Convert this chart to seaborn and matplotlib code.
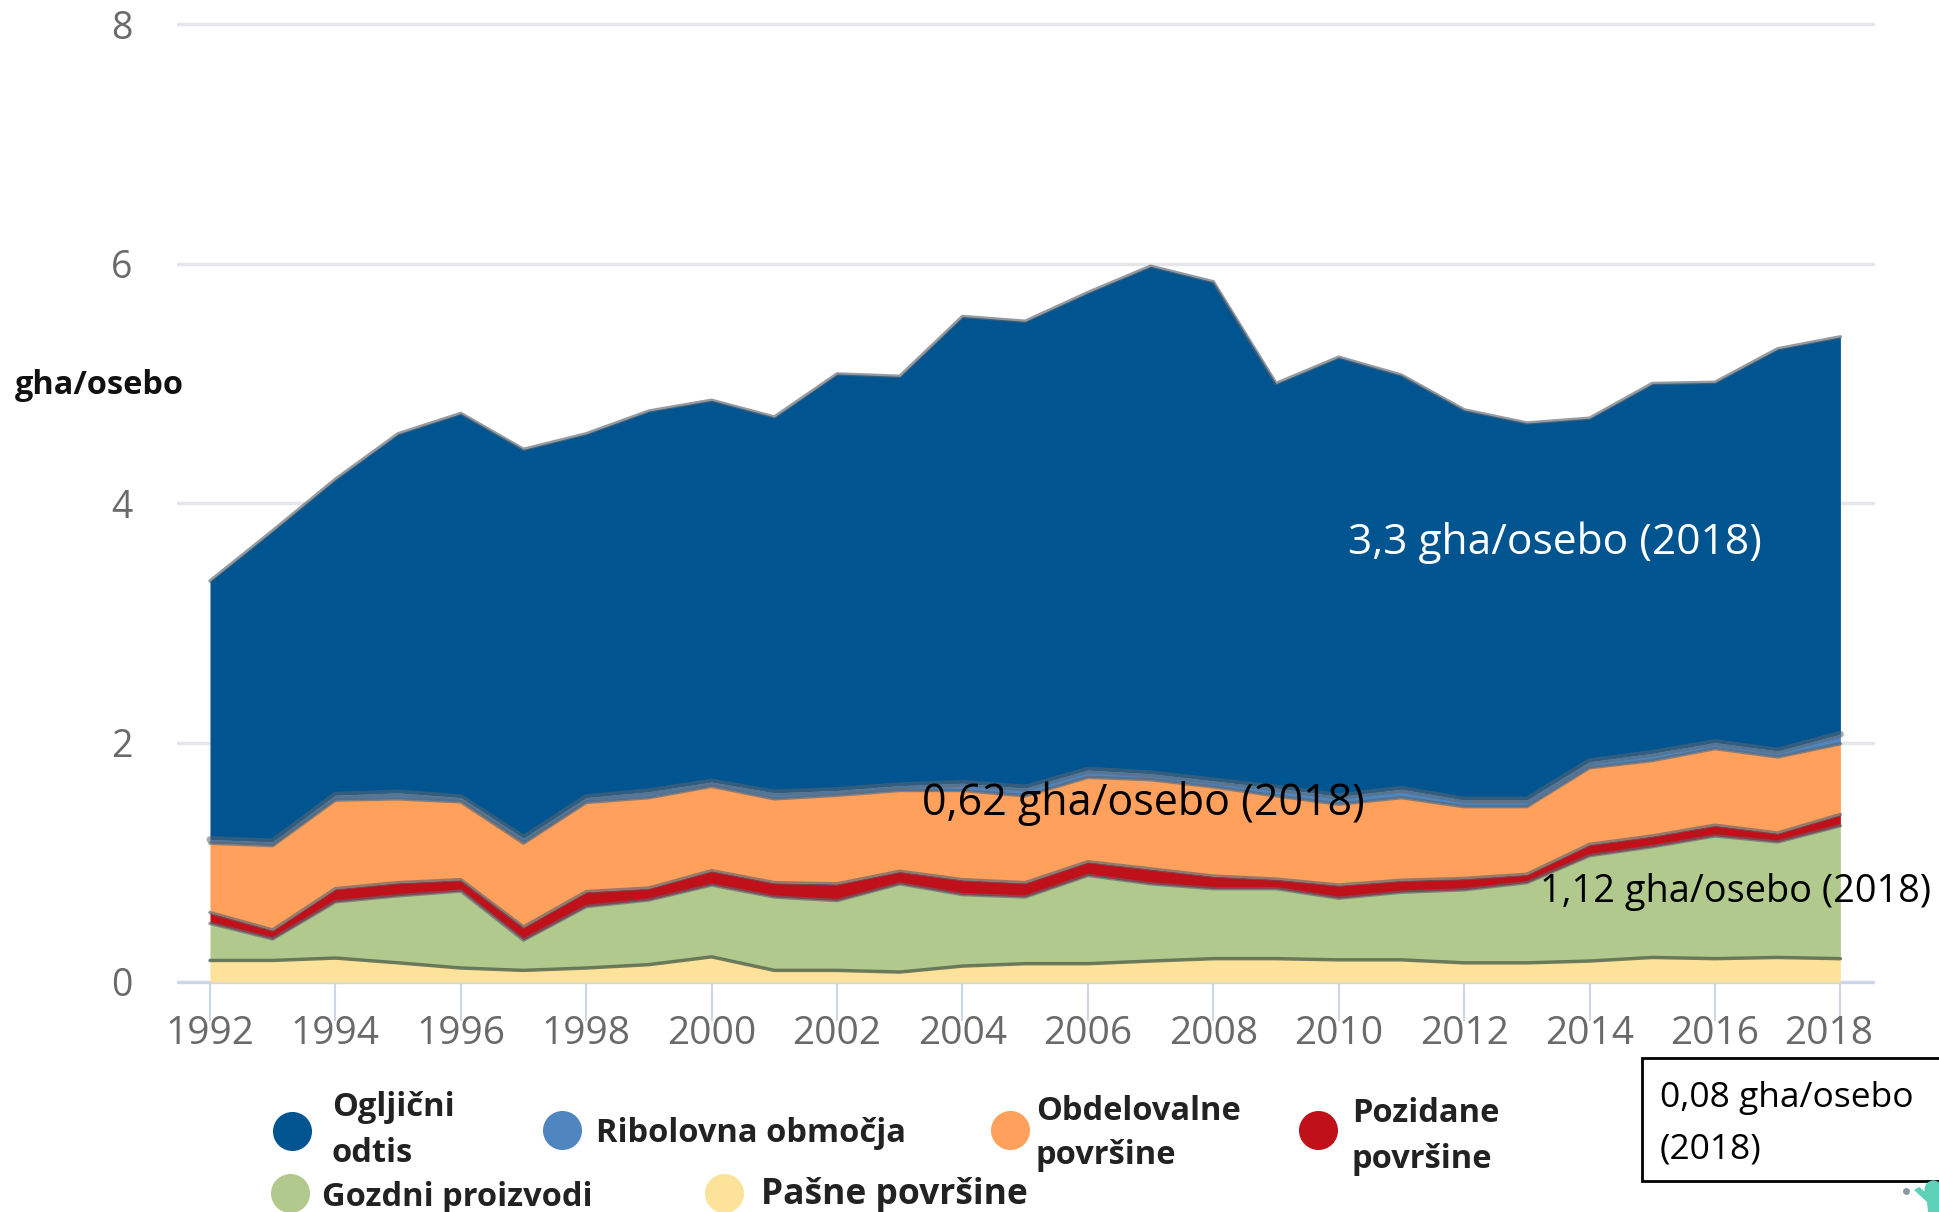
import numpy as np
import pandas as pd
import matplotlib
matplotlib.use("Agg")
import matplotlib.pyplot as plt
from matplotlib.patches import Rectangle, Polygon
from matplotlib.transforms import ScaledTranslation
import seaborn as sns

years = list(range(1992, 2019))
# Stack boundaries (gha/person)
grazing_top = [.18,.18,.20,.16,.117,.097,.117,.145,.21,.097,.097,.083,.133,.153,.153,.175,.195,.195,.185,.185,.16,.16,.175,.205,.195,.205,.195]
forest_top = [.49,.36,.67,.72,.76,.35,.63,.685,.81,.71,.68,.82,.73,.71,.89,.82,.78,.78,.70,.75,.77,.83,1.055,1.13,1.22,1.17,1.305]
built_top = [.58,.435,.78,.83,.855,.46,.755,.785,.93,.83,.82,.925,.855,.83,1.005,.945,.885,.86,.81,.85,.865,.90,1.15,1.22,1.31,1.245,1.40]
cropland_top = [1.16,1.14,1.52,1.53,1.505,1.16,1.50,1.54,1.635,1.53,1.56,1.60,1.60,1.555,1.71,1.69,1.63,1.555,1.485,1.54,1.465,1.465,1.79,1.85,1.95,1.88,1.99]
fishing_top = [1.19,1.17,1.56,1.58,1.54,1.20,1.54,1.59,1.67,1.58,1.60,1.64,1.66,1.62,1.77,1.74,1.68,1.62,1.55,1.61,1.52,1.52,1.84,1.91,2.00,1.93,2.07]
carbon_top = [3.35,3.77,4.2,4.58,4.75,4.45,4.58,4.77,4.86,4.72,5.08,5.06,5.56,5.52,5.76,5.98,5.85,5.0,5.22,5.07,4.78,4.67,4.71,5.0,5.01,5.29,5.39]

layers = [
    ("Pašne površine", grazing_top, "#fde29a"),
    ("Gozdni proizvodi", forest_top, "#b1c98d"),
    ("Pozidane površine", built_top, "#c0111a"),
    ("Obdelovalne površine", cropland_top, "#ffa05c"),
    ("Ribolovna območja", fishing_top, "#4f86c0"),
    ("Ogljični odtis", carbon_top, "#00548f"),
]
xticks = list(range(1992, 2019, 2))
yticks = [0, 2, 4, 6, 8]

W, H = 1940, 1212
sns.set_theme(style="white")
plt.rcParams["font.family"] = ["Open Sans", "DejaVu Sans"]

fig = plt.figure(figsize=(W / 100, H / 100), dpi=100, facecolor="white")
top_px = 982 - 8 * 119.7
ax = fig.add_axes([178 / W, 1 - 982 / H, (1873 - 178) / W, (982 - top_px) / H])
ax.set_xlim(1991.49, 2018.52)
ax.set_ylim(0, 8)

for v in yticks:
    ax.axhline(v, color="#e4e6ea" if v else "#ccd6eb", lw=2.5, zorder=1, clip_on=False)

df = pd.DataFrame({"year": years})
lower = np.zeros(len(years))
for name, top, color in layers:
    ax.fill_between(years, lower, top, color=color, lw=0, zorder=2)
    lower = np.array(top)
for name, top, color in layers:
    df[name] = top
    is_graze = name == "Pašne površine"
    is_fish = name == "Ribolovna območja"
    sns.lineplot(data=df, x="year", y=name, ax=ax,
                 color="#5a6a50" if is_graze else "#5c6670",
                 lw=5 if is_fish else 2.5,
                 alpha=.55 if is_fish else (.85 if is_graze else .65),
                 zorder=3, errorbar=None)

sns.despine(ax=ax, left=True, bottom=True, top=True, right=True)
ax.set_xlabel("")
ax.set_ylabel("")
ax.set_xticks(xticks)
ax.set_yticks(yticks)
ax.tick_params(axis="x", length=28, width=1.5, color="#ccd6eb", labelsize=28, pad=-4, bottom=True, labelcolor="#6a6a6a")
ax.tick_params(axis="y", length=0, labelsize=27, pad=33, labelcolor="#6a6a6a")
# The last year label sits left of its tick in the reference
last = ax.get_xticklabels()[-1]
last.set_transform(last.get_transform() + ScaledTranslation(-12 / 100, 0, fig.dpi_scale_trans))

def T(x, y, s, **kw):
    kw.setdefault("va", "center")
    return fig.text(x / W, 1 - y / H, s, **kw)

T(15, 386, "gha/osebo", fontsize=23.4, fontweight="bold", color="#111111")
T(1348, 543, "3,3 gha/osebo (2018)", fontsize=30.6, color="white")
T(922, 803, "0,62 gha/osebo (2018)", fontsize=31, color="black")
T(1540, 892, "1,12 gha/osebo (2018)", fontsize=27.3, color="black")

fig.add_artist(Rectangle((1642 / W, 1 - 1181 / H), 300 / W, 123 / H, transform=fig.transFigure,
                         fc="white", ec="black", lw=2, clip_on=False, zorder=-1))
T(1660, 1098, "0,08 gha/osebo", fontsize=25.5, color="black")
T(1660, 1149, "(2018)", fontsize=25.5, color="black")

# Corner logo fragment at the bottom right
teal = "#5fd0b8"
fig.add_artist(Polygon([(1914 / W, 1 - 1190 / H), (1919 / W, 1 - 1187 / H), (1930 / W, 1 - 1196 / H),
                        (1940 / W, 1 - 1196 / H), (1940 / W, 0), (1928 / W, 0), (1927 / W, 1 - 1202 / H)],
                       closed=True, transform=fig.transFigure, fc=teal, ec="none"))
ax.scatter([1933 / W], [1 - 1189 / H], s=170, color=teal, lw=0, transform=fig.transFigure, clip_on=False, zorder=6)
ax.scatter([1906 / W], [1 - 1191 / H], s=25, color="#8a9aa5", lw=0, transform=fig.transFigure, clip_on=False, zorder=6)

legend_marks = [
    (292, 1131, "#00548f"), (562, 1130, "#4f86c0"), (1010, 1130, "#ffa05c"),
    (1318, 1130, "#c0111a"), (290, 1193, "#b1c98d"), (724, 1193, "#fde29a"),
]
legend_texts = [
    (332, 1108, "Ogljični", 23.5), (332, 1153, "odtis", 23.5), (596, 1133, "Ribolovna območja", 23.5),
    (1036, 1111, "Obdelovalne", 23.5), (1036, 1155, "površine", 23.5),
    (1352, 1114, "Pozidane", 23.5), (1352, 1159, "površine", 23.5),
    (322, 1198, "Gozdni proizvodi", 23.5), (761, 1195, "Pašne površine", 25.5),
]
for x, y, c in legend_marks:
    ax.scatter([x / W], [1 - y / H], s=790, color=c, lw=0, transform=fig.transFigure, clip_on=False, zorder=5)
for x, y, s, fs in legend_texts:
    T(x, y, s, fontsize=fs, fontweight="bold", color="#222222")

fig.savefig("out.png", dpi=100, facecolor="white")
